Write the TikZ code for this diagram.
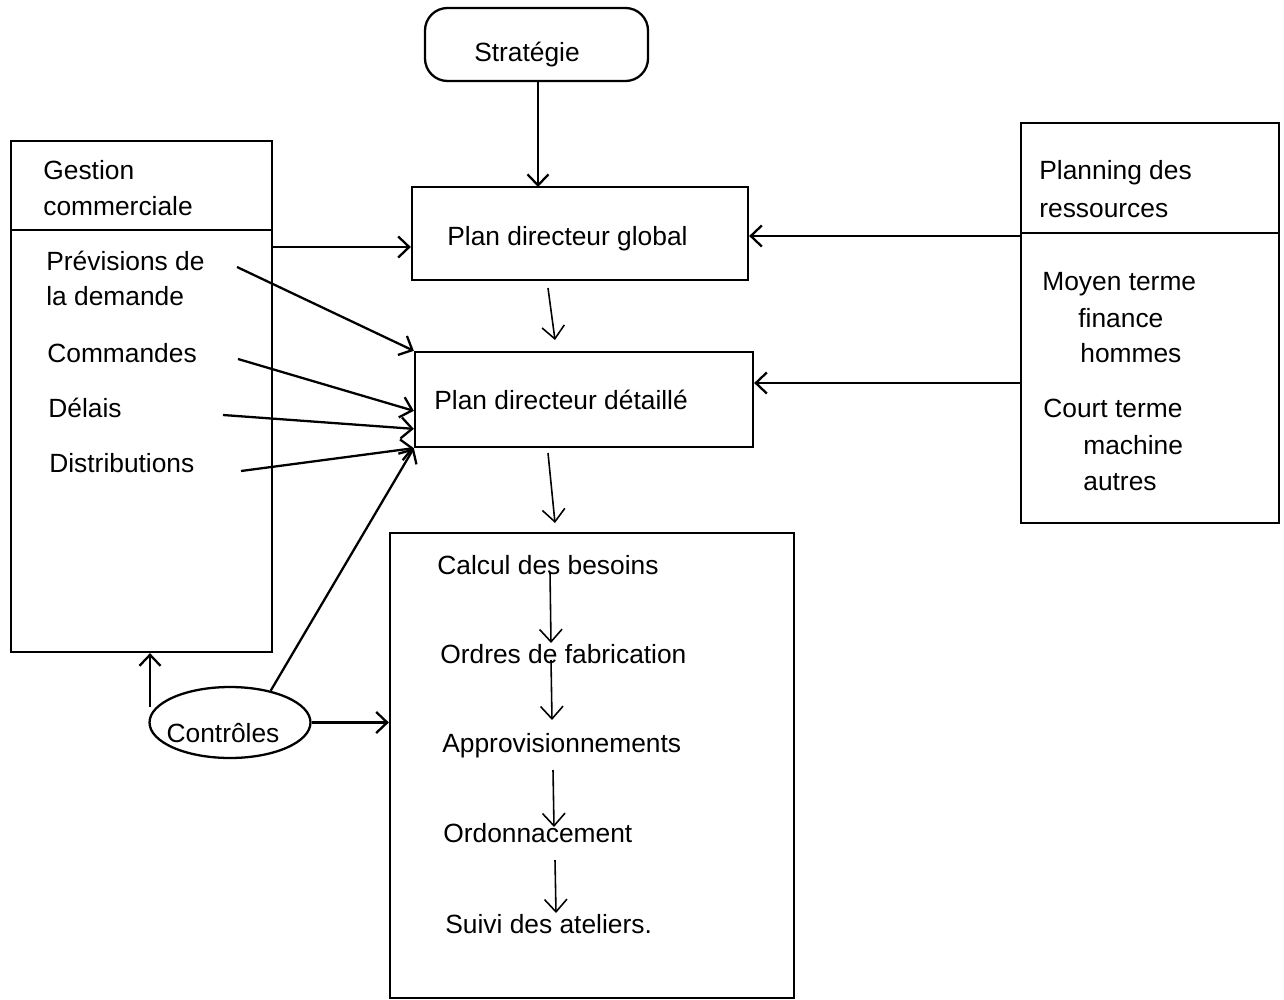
\documentclass[tikz,border=0pt]{standalone}
\usepackage{fontspec}
\setmainfont{Liberation Sans}
\usetikzlibrary{arrows.meta,fit,shapes.geometric,calc}
\begin{document}
\begin{tikzpicture}[x=0.02cm,y=-0.02cm,
  box/.style={draw, line width=1.3pt, inner sep=0pt},
  txt/.style={inner sep=0pt, anchor=base west, font=\fontsize{15}{18}\selectfont},
  arr/.style={line width=1.3pt, -{Straight Barb[length=0.22cm,width=0.42cm]}},
  thinarr/.style={line width=0.9pt, -{Straight Barb[length=0.25cm,width=0.45cm]}},
]
\useasboundingbox (0,0) rectangle (1284,1000);

% boxes
\node[box, rounded corners=0.45cm, fit={(425,8) (648,81)}] (strat) {};
\node[txt, anchor=base] (tstrat) at (527,62) {Stratégie};

\node[box, fit={(412,187) (748,280)}] (glob) {};
\node[txt] (tglob) at (447,245) {Plan directeur global};

\node[box, fit={(415,352) (753,447)}] (det) {};
\node[txt] (tdet) at (434,409) {Plan directeur détaillé};

\node[box, fit={(390,533) (794,998)}] (calc) {};
\node[txt] (t1) at (437,574) {Calcul des besoins};
\node[txt] (t2) at (440,663) {Ordres de fabrication};
\node[txt] (t3) at (442,752) {Approvisionnements};
\node[txt] (t4) at (443,842) {Ordonnacement};
\node[txt] (t5) at (445,933) {Suivi des ateliers.};

\node[box, fit={(11,141) (272,652)}] (gc) {};
\draw[line width=1.3pt] (11,230) -- (272,230);
\node[txt] at (43,180) {Gestion};
\node[txt] at (43,215) {commerciale};
\node[txt] at (46,270) {Prévisions de};
\node[txt] at (46,305) {la demande};
\node[txt] at (47,362) {Commandes};
\node[txt] at (48,417) {Délais};
\node[txt] at (49,472) {Distributions};

\node[box, fit={(1021,123) (1279,523)}] (plan) {};
\draw[line width=1.3pt] (1021,233) -- (1279,233);
\node[txt] at (1039,180) {Planning des};
\node[txt] at (1039,217) {ressources};
\node[txt] at (1042,290) {Moyen terme};
\node[txt] at (1078,327) {finance};
\node[txt] at (1080,362) {hommes};
\node[txt] at (1043,417) {Court terme};
\node[txt] at (1083,454) {machine};
\node[txt] at (1083,490) {autres};

\node[draw, ellipse, line width=1.3pt, inner sep=0pt, minimum width=3.22cm, minimum height=1.42cm] (ctrl) at (230,722.5) {};
\node[txt, anchor=base] at (223,742) {Contrôles};

% helper coordinates
\coordinate (y247) at (0,247);
\coordinate (y236) at (0,236);
\coordinate (y383) at (0,383);
\coordinate (c1) at (237,267);
\coordinate (c2) at (238,359);
\coordinate (c3) at (223,415);
\coordinate (c4) at (241,471);
\coordinate (cv) at (150,707);

% main connectors
\draw[arr] (strat.south -| 538,0) -- (538,187);
\draw[arr] (gc.east |- y247) -- (glob.west |- y247);
\draw[arr] (plan.west |- y236) -- (glob.east |- y236);
\draw[arr] (plan.west |- y383) -- (det.east |- y383);
\draw[arr] (c1) -- (det.north west);
\draw[arr] (c2) -- ($(det.north west)+(0,60)$);
\draw[arr] (c3) -- ($(det.north west)+(0,78)$);
\draw[arr] (c4) -- (det.south west);
\draw[arr] (ctrl.38) -- (det.south west);
\draw[arr] (cv) -- (cv |- gc.south);
\draw[arr] (ctrl.east) -- (ctrl.east -| calc.west);

% thin arrows between plans
\coordinate (g1) at (548,288);
\coordinate (g2) at (555,340);
\coordinate (d1) at (548,453);
\coordinate (d2) at (555,523);
\draw[thinarr] (g1) -- (g2);
\draw[thinarr] (d1) -- (d2);

% inner arrows
\coordinate (i1a) at (550,572); \coordinate (i1b) at (551,643);
\coordinate (i2a) at (551,660); \coordinate (i2b) at (552,720);
\coordinate (i3a) at (553,770); \coordinate (i3b) at (554,827);
\coordinate (i4a) at (555,860); \coordinate (i4b) at (556,913);
\draw[thinarr] (i1a) -- (i1b);
\draw[thinarr] (i2a) -- (i2b);
\draw[thinarr] (i3a) -- (i3b);
\draw[thinarr] (i4a) -- (i4b);
\end{tikzpicture}
\end{document}
